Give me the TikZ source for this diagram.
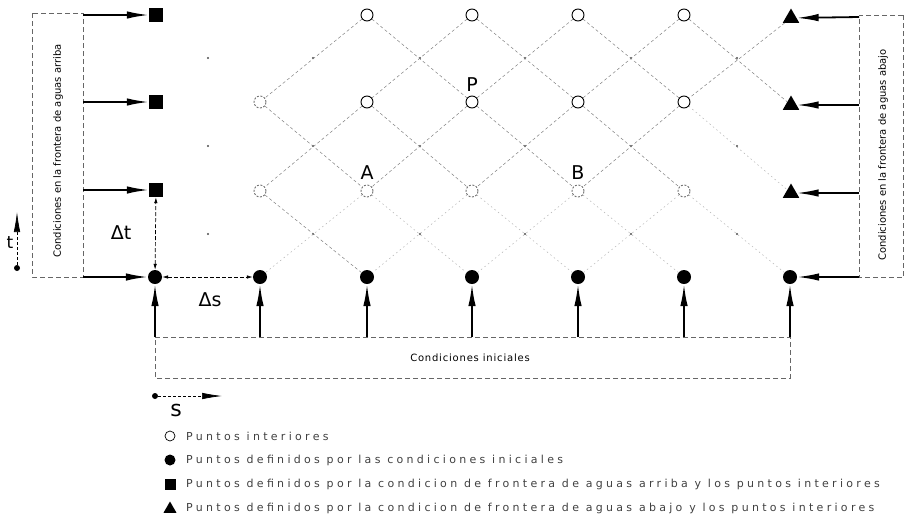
\documentclass[tikz,border=0pt]{standalone}
\usepackage{fontspec}
\setmainfont{DejaVu Sans}
\newfontfamily\legfont[LetterSpace=30]{DejaVu Sans}
\usetikzlibrary{arrows.meta,shapes.geometric}
\tikzset{
  fdot/.style={circle, fill=black, inner sep=0pt, minimum width=13pt, minimum height=14pt},
  odot/.style={circle, draw=black, line width=0.9pt, inner sep=0pt, minimum size=12pt},
  odotf/.style={odot, draw=black!55, dash pattern=on 2pt off 1.5pt},
  sqr/.style={rectangle, fill=black, inner sep=0pt, minimum size=14pt},
  tri/.style={regular polygon, regular polygon sides=3, fill=black, inner sep=0pt, minimum size=19pt},
  mdot/.style={circle, fill=black!70, inner sep=0pt, minimum size=2.2pt},
  bigarrow/.style={line width=1.8pt, -{Latex[length=22pt,width=7.5pt]}},
  lat/.style={black!50, line width=0.5pt, dash pattern=on 3pt off 2.5pt},
  latf/.style={black!30, line width=0.5pt, dash pattern=on 1.5pt off 3pt},
  brk/.style={black!60, line width=0.6pt, dash pattern=on 5pt off 3pt},
  dim/.style={line width=0.7pt, dash pattern=on 4pt off 2pt, {Latex[length=6pt,width=3.5pt]}-{Latex[length=6pt,width=3.5pt]}},
  axisarr/.style={line width=0.7pt, dash pattern=on 3pt off 2pt, -{Latex[length=20pt,width=6.5pt]}},
  lbl/.style={font=\fontsize{19}{19}\selectfont, inner sep=0pt},
  cond/.style={font=\fontsize{10}{12}\selectfont, inner sep=0pt},
  leg/.style={font=\legfont\fontsize{11}{13}\selectfont, anchor=west, inner sep=0pt, text=black!75},
}
\begin{document}
\begin{tikzpicture}[x=1pt,y=-1pt]
\useasboundingbox (0,0) rectangle (905,515);

% boundary nodes
\node[sqr] (n00) at (156,15) {};
\node[sqr] (n01) at (156,102) {};
\node[sqr] (n02) at (156,190) {};
\node[tri] (n60) at (791,18) {};
\node[tri] (n61) at (791,105) {};
\node[tri] (n62) at (791,193) {};
\foreach \c/\x in {0/155,1/260,2/367,3/472,4/578,5/684,6/790}
  \node[fdot] (n\c3) at (\x,277) {};

% interior nodes
\foreach \c/\x in {2/367,3/472,4/578,5/684}
  \node[odot] (n\c0) at (\x,15) {};
\node[odotf] (n11) at (260,102) {};
\foreach \c/\x in {2/367,3/472,4/578,5/684}
  \node[odot] (n\c1) at (\x,102) {};
\foreach \c/\x in {1/260,2/367,3/472,4/578,5/684}
  \node[odotf] (n\c2) at (\x,191) {};

% crossing points
\foreach \i/\x in {1/208,2/313,3/420,4/525,5/631,6/737}
  \foreach \j/\y in {1/58,2/146,3/234}
    \node[mdot] (m\i\j) at (\x,\y) {};

% characteristic lattice
\foreach \a/\b in {20/11,20/31,30/21,30/41,40/31,40/51,50/41,50/61,60/51,
                   11/22,21/12,21/32,31/22,31/42,41/32,41/52,51/42,12/23}
  \draw[lat] (n\a) -- (n\b);
\foreach \a/\b in {51/62,22/13,22/33,32/23,32/43,42/33,42/53,52/43,52/63}
  \draw[latf] (n\a) -- (n\b);

% labels P, A, B
\node[lbl] (P) at (472,85) {P};
\node[lbl] (A) at (367,173) {A};
\node[lbl] (B) at (578,173) {B};

% upstream boundary
\coordinate (lt) at (32,13);
\coordinate (lb) at (32,277);
\coordinate (rt) at (83,13);
\coordinate (rb) at (83,277);
\draw[brk] (lt) -- (lb) -- (rb) -- (rt) -- cycle;
\node[cond, rotate=90] (uptext) at (58,151) {Condiciones en la frontera de aguas arriba};
\foreach \r/\y in {0/15,1/102,2/190,3/277}{
  \coordinate (L\r) at (83,\y);
}
\foreach \r in {0,1,2} \draw[bigarrow] (L\r) -- (n0\r);
\draw[bigarrow] (L3) -- (n03);

% downstream boundary
\coordinate (Rt1) at (859,15);
\coordinate (Rb1) at (859,277);
\coordinate (Rt2) at (903,15);
\coordinate (Rb2) at (903,277);
\draw[brk] (Rt2) -- (Rt1) -- (Rb1) -- (Rb2);
\draw[brk] (Rt2) -- (Rb2);
\node[cond, rotate=90] (downtext) at (883,155) {Condiciones en la frontera de aguas abajo};
\foreach \r/\y in {0/17,1/105,2/193,3/277}
  \coordinate (R\r) at (859,\y);
\foreach \r in {0,1,2} \draw[bigarrow] (R\r) -- (n6\r);
\draw[bigarrow] (R3) -- (n63);

% initial conditions
\coordinate (Bl) at (155,337);
\coordinate (Br) at (790,337);
\coordinate (Bll) at (155,378);
\coordinate (Brr) at (790,378);
\draw[brk] (Bl) -- (Br) -- (Brr) -- (Bll) -- cycle;
\node[cond] (initext) at (470,358) {\addfontfeature{LetterSpace=8}Condiciones iniciales};
\foreach \c/\x in {0/155,1/260,2/367,3/472,4/578,5/684,6/790}{
  \coordinate (B\c) at (\x,337);
  \draw[bigarrow] (B\c) -- (n\c3);
}

% increments
\draw[dim] (n03) -- (n02);
\node[lbl] (dt) at (121,233) {Δt};
\draw[dim] (n03) -- (n13);
\node[lbl] (ds) at (210,300) {Δs};

% axes
\node[circle, fill=black, inner sep=0pt, minimum size=6pt] (tdot) at (17,268) {};
\coordinate (ttip) at (17,212);
\draw[axisarr] (tdot) -- (ttip);
\node[font=\fontsize{17}{17}\selectfont, inner sep=0pt] (tlab) at (10,243) {t};
\node[circle, fill=black, inner sep=0pt, minimum size=6pt] (sdot) at (155,396) {};
\coordinate (stip) at (222,396);
\draw[axisarr] (sdot) -- (stip);
\node[font=\fontsize{22}{22}\selectfont, inner sep=0pt] (slab) at (176,410) {s};

% legend
\node[odot, minimum size=10pt, line width=0.7pt] (k1) at (170,436) {};
\node[fdot, minimum width=11pt, minimum height=11pt] (k2) at (170,460) {};
\node[sqr, minimum size=11pt] (k3) at (170,484) {};
\node[tri, minimum size=15pt] (k4) at (170,509) {};
\node[leg] (t1) at (186,436) {Puntos interiores};
\node[leg] (t2) at (186,460) {Puntos definidos por las condiciones iniciales};
\node[leg] (t3) at (186,484) {Puntos definidos por la condicion de frontera de aguas arriba y los puntos interiores};
\node[leg] (t4) at (186,508) {Puntos definidos por la condicion de frontera de aguas abajo y los puntos interiores};
\end{tikzpicture}
\end{document}
